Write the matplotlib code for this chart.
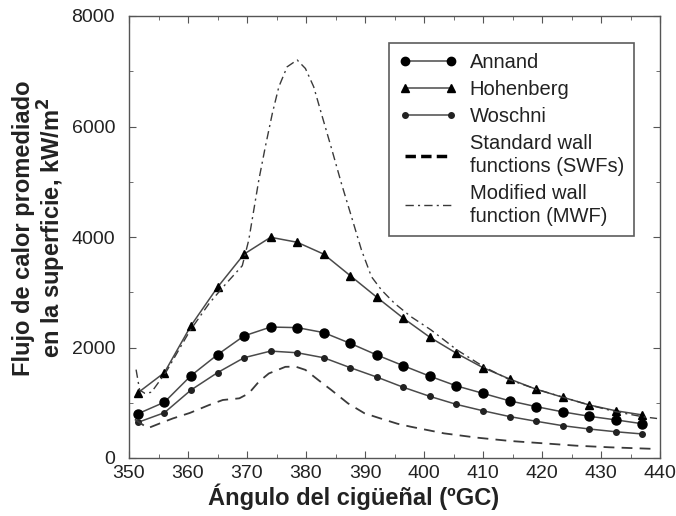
import matplotlib
matplotlib.use("Agg")
import matplotlib.pyplot as plt
from matplotlib.lines import Line2D
from matplotlib.ticker import MultipleLocator

plt.rcParams['font.family'] = ['Liberation Sans', 'DejaVu Sans']

# ---- data ----
angles = [351.5, 356, 360.5, 365, 369.5, 374, 378.5, 383, 387.5, 392,
          396.5, 401, 405.5, 410, 414.5, 419, 423.5, 428, 432.5, 437]
annand = [800, 1010, 1490, 1870, 2210, 2370, 2360, 2270, 2075, 1865,
          1670, 1480, 1305, 1170, 1035, 930, 835, 755, 690, 620]
hohenberg = [1180, 1545, 2395, 3090, 3690, 3995, 3905, 3690, 3300, 2910,
             2530, 2185, 1895, 1635, 1430, 1245, 1100, 960, 855, 780]
woschni = [645, 820, 1230, 1545, 1815, 1935, 1905, 1815, 1635, 1465,
           1280, 1115, 970, 855, 750, 665, 585, 525, 475, 435]

swf_x = [351.0, 351.8, 353.2, 355.2, 357.4, 360.3, 363.6, 365.9, 368.7, 370.3,
         372.0, 373.7, 376.5, 378.2, 379.9, 382.1, 384.3, 387.1, 389.9, 392.5,
         395.5, 397.8, 403.4, 409.0, 414.6, 420.2, 425.8, 431.4, 439.5]
swf_y = [700, 640, 540, 625, 715, 815, 960, 1050, 1080, 1170,
         1380, 1530, 1650, 1655, 1595, 1410, 1230, 990, 810, 720,
         620, 565, 446, 368, 308, 266, 223, 194, 163]

mwf_x = [351.2, 351.8, 352.7, 353.8, 356.3, 360.3, 363.6, 366.4, 369.2, 370.3,
         372.0, 373.1, 374.3, 375.4, 376.8, 378.5, 379.9, 381.3, 382.7, 384.4,
         386.0, 387.7, 389.4, 391.1, 392.8, 395.0, 397.8, 401.2, 405.6, 410.1,
         414.6, 419.1, 423.6, 428.0, 432.5, 437.0, 439.5]
mwf_y = [1600, 1230, 1170, 1190, 1560, 2300, 2800, 3150, 3480, 3946,
         5030, 5630, 6240, 6720, 7080, 7204, 7050, 6720, 6200, 5575,
         4970, 4370, 3765, 3280, 3040, 2800, 2557, 2317, 1955, 1653,
         1412, 1243, 1099, 959, 838, 748, 715]

xticks = [350, 360, 370, 380, 390, 400, 410, 420, 430, 440]
yticks = [0, 2000, 4000, 6000, 8000]

# ---- figure ----
L, R, T, B = 129, 660, 16, 458
fig = plt.figure(figsize=(6.76, 5.16), dpi=100)
ax = fig.add_axes([L/676, 1 - B/516, (R - L)/676, (B - T)/516])

lc = '#4a4a4a'
ax.plot(angles, annand, '-', color=lc, lw=1.1, marker='o', ms=6.5,
        mfc='black', mec='black')
ax.plot(angles, hohenberg, '-', color=lc, lw=1.1, marker='^', ms=6,
        mfc='black', mec='black')
ax.plot(angles, woschni, '-', color=lc, lw=1.1, marker='o', ms=4,
        mfc='#222222', mec='#222222')
ax.plot(swf_x, swf_y, color='#3a3a3a', lw=1.3, dashes=(6, 4))
ax.plot(mwf_x, mwf_y, color='#3a3a3a', lw=1.0, dashes=(6, 3, 1.5, 3))

ax.set_xlim(350, 440)
ax.set_ylim(0, 8000)
ax.set_xticks(xticks)
ax.set_yticks(yticks)
ax.xaxis.set_minor_locator(MultipleLocator(5))
ax.yaxis.set_minor_locator(MultipleLocator(1000))
ax.tick_params(which='both', direction='in', top=True, right=True,
               color='#555555', labelsize=14, labelcolor='#222222')
ax.tick_params(which='major', length=5)
ax.tick_params(which='minor', length=3)
ax.tick_params(axis='x', pad=5)
ax.tick_params(axis='y', pad=10)
for s in ax.spines.values():
    s.set_color('#555555')
    s.set_linewidth(1.0)

fig.text(354/676, 1 - 497/516, 'Ángulo del cigüeñal (ºGC)', ha='center',
         va='center', fontsize=17, fontweight='bold', color='#222222')
fig.text(40/676, 1 - 228/516,
         'Flujo de calor promediado\nen la superficie, kW/m$^\\mathbf{2}$',
         ha='center', va='center', rotation=90, fontsize=17,
         fontweight='bold', color='#222222', linespacing=1.05)

handles = [
    Line2D([], [], color=lc, lw=1.1, marker='o', ms=6, mfc='black', mec='black'),
    Line2D([], [], color=lc, lw=1.1, marker='^', ms=5.5, mfc='black', mec='black'),
    Line2D([], [], color=lc, lw=1.1, marker='o', ms=4, mfc='#222222', mec='#222222'),
    Line2D([], [], color='black', lw=2.5, dashes=(3, 1.5)),
    Line2D([], [], color='#3a3a3a', lw=1.0, dashes=(6, 3, 1.5, 3)),
]
labels = ['Annand', 'Hohenberg', 'Woschni',
          'Standard wall\nfunctions (SWFs)', 'Modified wall\nfunction (MWF)']
leg = ax.legend(handles, labels, loc='upper left',
                bbox_to_anchor=((389 - L)/(R - L), 1 - (43 - T)/(B - T)),
                fontsize=14.5, frameon=True, fancybox=False, numpoints=2,
                handlelength=2.9, handletextpad=0.6, borderpad=0.5,
                labelspacing=0.4, borderaxespad=0)
leg.get_frame().set_edgecolor('#333333')
leg.get_frame().set_linewidth(1.2)
for t in leg.get_texts():
    t.set_color('#222222')
    t.set_linespacing(1.25)

fig.savefig('out.png', dpi=100)
